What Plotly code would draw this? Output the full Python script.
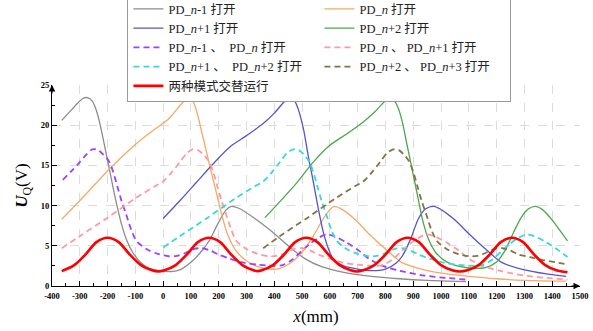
import plotly.graph_objects as go

# ---------------- data ----------------
gray_x = [-365, -330, -300, -285, -270, -255, -240, -225, -210, -195, -180, -165, -150, -130, -110, -80, -50, -10, 30, 60, 105, 135, 165, 195, 225, 245, 270, 330, 390, 450, 510, 570, 650, 750, 850, 950, 1090]
gray_y = [20.6, 21.9, 23.0, 23.4, 23.4, 23.0, 21.8, 19.8, 17.3, 14.8, 12.2, 9.8, 7.7, 5.6, 4.2, 2.9, 2.2, 1.9, 1.8, 2.0, 3.1, 4.2, 5.6, 7.6, 9.4, 9.9, 9.7, 8.4, 6.8, 5.0, 3.4, 2.4, 1.7, 1.2, 0.9, 0.7, 0.55]

orange_x = [-365, -300, -200, -100, -50, -10, 20, 50, 75, 90, 105, 120, 140, 155, 170, 190, 210, 230, 260, 300, 340, 380, 420, 460, 500, 540, 575, 600, 615, 640, 690, 740, 800, 860, 940, 1020, 1100, 1200, 1300, 1450]
orange_y = [8.3, 10.6, 14.3, 17.6, 19.0, 20.0, 20.8, 22.0, 23.0, 23.4, 23.1, 21.8, 19.0, 16.8, 14.6, 11.8, 9.0, 6.6, 4.5, 3.1, 2.4, 2.1, 2.2, 2.9, 4.2, 6.2, 8.3, 9.5, 9.9, 9.6, 8.3, 6.5, 4.6, 2.9, 2.0, 1.5, 1.2, 0.9, 0.7, 0.6]

blue_x = [0, 60, 120, 180, 240, 300, 360, 400, 430, 450, 470, 486, 505, 522, 535, 546, 560, 577, 595, 613, 650, 700, 750, 800, 840, 860, 890, 919, 945, 974, 1000, 1050, 1100, 1160, 1220, 1300, 1380, 1450]
blue_y = [8.4, 10.6, 12.9, 15.2, 17.3, 18.7, 20.2, 21.5, 22.7, 23.4, 23.2, 22.0, 19.5, 16.2, 13.9, 11.9, 9.3, 6.6, 4.6, 3.3, 2.5, 2.1, 1.9, 2.1, 2.9, 3.7, 5.8, 8.4, 9.6, 9.9, 9.5, 8.2, 6.5, 4.6, 2.9, 2.0, 1.5, 1.2]

green_x = [366, 420, 480, 540, 600, 660, 720, 760, 790, 815, 830, 845, 860, 875, 890, 905, 918, 935, 955, 980, 1020, 1070, 1120, 1160, 1200, 1230, 1260, 1290, 1315, 1340, 1365, 1400, 1430, 1455]
green_y = [8.5, 10.5, 12.8, 15.4, 17.5, 18.9, 20.4, 21.6, 22.7, 23.4, 23.1, 22.2, 20.5, 18.0, 15.5, 13.0, 10.8, 8.0, 5.8, 4.2, 3.0, 2.4, 2.2, 2.3, 3.0, 4.4, 6.6, 8.6, 9.6, 9.9, 9.5, 8.2, 6.8, 5.6]

purple_x = [-361, -330, -300, -275, -255, -235, -217, -195, -180, -165, -150, -133, -115, -96, -60, -20, 20, 50, 80, 110, 140, 170, 200, 240, 290, 340, 400, 430, 465, 500, 530, 560, 585, 615, 660, 704, 740, 790, 850, 940, 1020, 1090]
purple_y = [13.2, 14.3, 15.4, 16.4, 17.0, 16.9, 16.4, 15.5, 14.2, 12.4, 10.6, 8.9, 7.0, 5.6, 4.6, 4.0, 3.7, 3.75, 4.1, 4.6, 4.7, 4.4, 3.9, 3.4, 2.9, 2.65, 2.5, 2.6, 3.3, 4.4, 5.3, 6.0, 6.4, 6.2, 5.4, 4.4, 3.4, 2.5, 1.9, 1.3, 1.0, 0.8]

pink_x = [-365, -300, -200, -100, -30, 0, 30, 60, 85, 105, 125, 143, 165, 180, 195, 210, 227, 245, 264, 300, 340, 380, 410, 440, 470, 500, 530, 560, 600, 650, 700, 760, 790, 825, 860, 890, 920, 945, 975, 1020, 1064, 1100, 1150, 1210, 1300, 1380, 1455]
pink_y = [4.7, 6.2, 8.5, 10.9, 12.4, 13.0, 14.1, 15.4, 16.5, 17.0, 16.9, 16.4, 15.5, 14.2, 12.4, 10.6, 8.9, 7.0, 5.6, 4.6, 4.0, 3.7, 3.75, 4.1, 4.6, 4.7, 4.4, 3.9, 3.4, 2.9, 2.65, 2.5, 2.6, 3.3, 4.4, 5.3, 6.0, 6.4, 6.2, 5.4, 4.4, 3.4, 2.5, 1.9, 1.3, 1.0, 0.8]

cyan_x = [0, 60, 160, 260, 330, 360, 390, 420, 445, 468, 488, 505, 525, 540, 555, 570, 587, 605, 625, 660, 700, 740, 770, 800, 830, 860, 890, 920, 960, 1010, 1060, 1120, 1150, 1185, 1220, 1250, 1280, 1305, 1335, 1380, 1424, 1455]
cyan_y = [4.8, 6.2, 8.5, 10.9, 12.4, 13.0, 14.1, 15.4, 16.5, 17.0, 16.9, 16.4, 15.5, 14.2, 12.4, 10.6, 8.9, 7.0, 5.6, 4.6, 4.0, 3.7, 3.75, 4.1, 4.6, 4.7, 4.4, 3.9, 3.4, 2.9, 2.65, 2.5, 2.6, 3.3, 4.4, 5.3, 6.0, 6.4, 6.2, 5.4, 4.4, 3.6]

olive_x = [360, 420, 520, 620, 690, 720, 750, 780, 805, 828, 848, 865, 885, 900, 915, 930, 947, 965, 985, 1020, 1060, 1100, 1130, 1160, 1190, 1220, 1250, 1280, 1320, 1370, 1420, 1455]
olive_y = [4.7, 6.2, 8.5, 10.9, 12.4, 13.0, 14.1, 15.4, 16.5, 17.0, 16.9, 16.4, 15.5, 14.2, 12.4, 10.6, 8.9, 7.0, 5.6, 4.6, 4.0, 3.7, 3.75, 4.1, 4.6, 4.7, 4.4, 3.9, 3.6, 3.2, 2.9, 2.7]

red_x = [-365, -320, -280, -240, -200, -160, -120, -80, -40, -18,
         5, 45, 85, 125, 165, 205, 245, 285, 325, 340,
         355, 395, 435, 475, 515, 555, 595, 635, 675, 697,
         720, 760, 800, 840, 880, 920, 960, 1000, 1040, 1067,
         1095, 1135, 1175, 1215, 1255, 1295, 1335, 1375, 1415, 1455]
red_y = [1.85, 2.6, 3.9, 5.45, 6.0, 5.45, 3.9, 2.6, 1.95, 1.8,
         1.95, 2.6, 3.9, 5.45, 6.0, 5.45, 3.9, 2.6, 1.95, 1.85,
         1.95, 2.6, 3.9, 5.45, 6.0, 5.45, 3.9, 2.6, 1.95, 1.8,
         1.95, 2.6, 3.9, 5.45, 6.0, 5.45, 3.9, 2.6, 1.95, 1.8,
         1.95, 2.6, 3.9, 5.45, 6.0, 5.45, 3.9, 2.6, 1.95, 1.7]

x_ticks = list(range(-400, 1501, 100))
y_ticks = [0, 5, 10, 15, 20, 25]

series = [
    ("PD_<i>n</i>-1 打开", gray_x, gray_y, "#8c8c8c", "solid", 1.3),
    ("PD_<i>n</i> 打开", orange_x, orange_y, "#f7a865", "solid", 1.3),
    ("PD_<i>n</i>+1 打开", blue_x, blue_y, "#5454d0", "solid", 1.3),
    ("PD_<i>n</i>+2 打开", green_x, green_y, "#4aa84a", "solid", 1.3),
    ("PD_<i>n</i>-1 、  PD_<i>n</i> 打开", purple_x, purple_y, "#a040ff", "6px,4px", 1.8),
    ("PD_<i>n</i> 、 PD_<i>n</i>+1 打开", pink_x, pink_y, "#ff9aa2", "6px,4px", 1.8),
    ("PD_<i>n</i>+1 、  PD_<i>n</i>+2 打开", cyan_x, cyan_y, "#38d8d8", "6px,4px", 1.8),
    ("PD_<i>n</i>+2 、 PD_<i>n</i>+3 打开", olive_x, olive_y, "#857345", "6px,4px", 1.8),
    ("两种模式交替运行", red_x, red_y, "#ff0000", "solid", 2.6),
]

FONT = "Liberation Serif, Times New Roman, Noto Sans CJK SC, serif"

fig = go.Figure()
for name, xs, ys, col, dash, w in series:
    fig.add_trace(go.Scatter(
        x=xs, y=ys, mode="lines", name=name,
        line=dict(color=col, dash=dash, width=w, shape="spline", smoothing=0.8),
    ))

fig.update_layout(
    width=593, height=331,
    margin=dict(l=51.5, r=13, t=85, b=44.5, autoexpand=False),
    paper_bgcolor="white", plot_bgcolor="white",
    font=dict(family=FONT, color="black"),
    showlegend=True,
    legend=dict(
        orientation="h", x=(127 - 51.5) / 528.5, y=(286.5 + 7) / 201.5, xanchor="left", yanchor="top",
        entrywidth=146, entrywidthmode="pixels",
        bgcolor="white", bordercolor="#9a9a9a", borderwidth=1,
        font=dict(family=FONT, size=12.5, color="#222"),
        itemwidth=30,
    ),
    xaxis=dict(
        range=[-400, 1500], tickvals=x_ticks, ticktext=[str(v) for v in x_ticks],
        ticks="inside", ticklen=5, tickcolor="black", ticklabelstandoff=2,
        minor=dict(ticks="inside", ticklen=3, dtick=50, tickcolor="black", showgrid=False),
        showline=True, linecolor="black", linewidth=1,
        showgrid=True, gridcolor="#dcdcdc", griddash="dash", gridwidth=1,
        zeroline=False,
        tickfont=dict(family=FONT, size=8.5, color="black", weight="bold"),
        title=dict(text="<i>x</i>(mm)", font=dict(family=FONT, size=17, color="black"), standoff=9),
    ),
    yaxis=dict(
        range=[0, 25], tickvals=y_ticks, ticktext=[str(v) for v in y_ticks],
        ticks="inside", ticklen=5, tickcolor="black",
        minor=dict(ticks="inside", ticklen=3, dtick=2.5, tickcolor="black", showgrid=False),
        showline=True, linecolor="black", linewidth=1,
        showgrid=True, gridcolor="#dcdcdc", griddash="dash", gridwidth=1,
        zeroline=False,
        tickfont=dict(family=FONT, size=8.5, color="black", weight="bold"),
        title=dict(text="<b><i>U</i></b><sub>Q</sub>(V)", font=dict(family=FONT, size=17, color="black"), standoff=8),
    ),
    annotations=[
        dict(xref="paper", yref="paper", x=1.0, y=0, ax=-10, ay=0, axref="pixel", ayref="pixel",
             text="", showarrow=True, arrowhead=2, arrowsize=1.3, arrowwidth=1, arrowcolor="black"),
        dict(xref="paper", yref="paper", x=0, y=1.0, ax=0, ay=10, axref="pixel", ayref="pixel",
             text="", showarrow=True, arrowhead=2, arrowsize=1.3, arrowwidth=1, arrowcolor="black"),
    ],
)

fig.write_html("out.html", config={"displayModeBar": False},
               post_script="document.body.style.margin='0px';")
